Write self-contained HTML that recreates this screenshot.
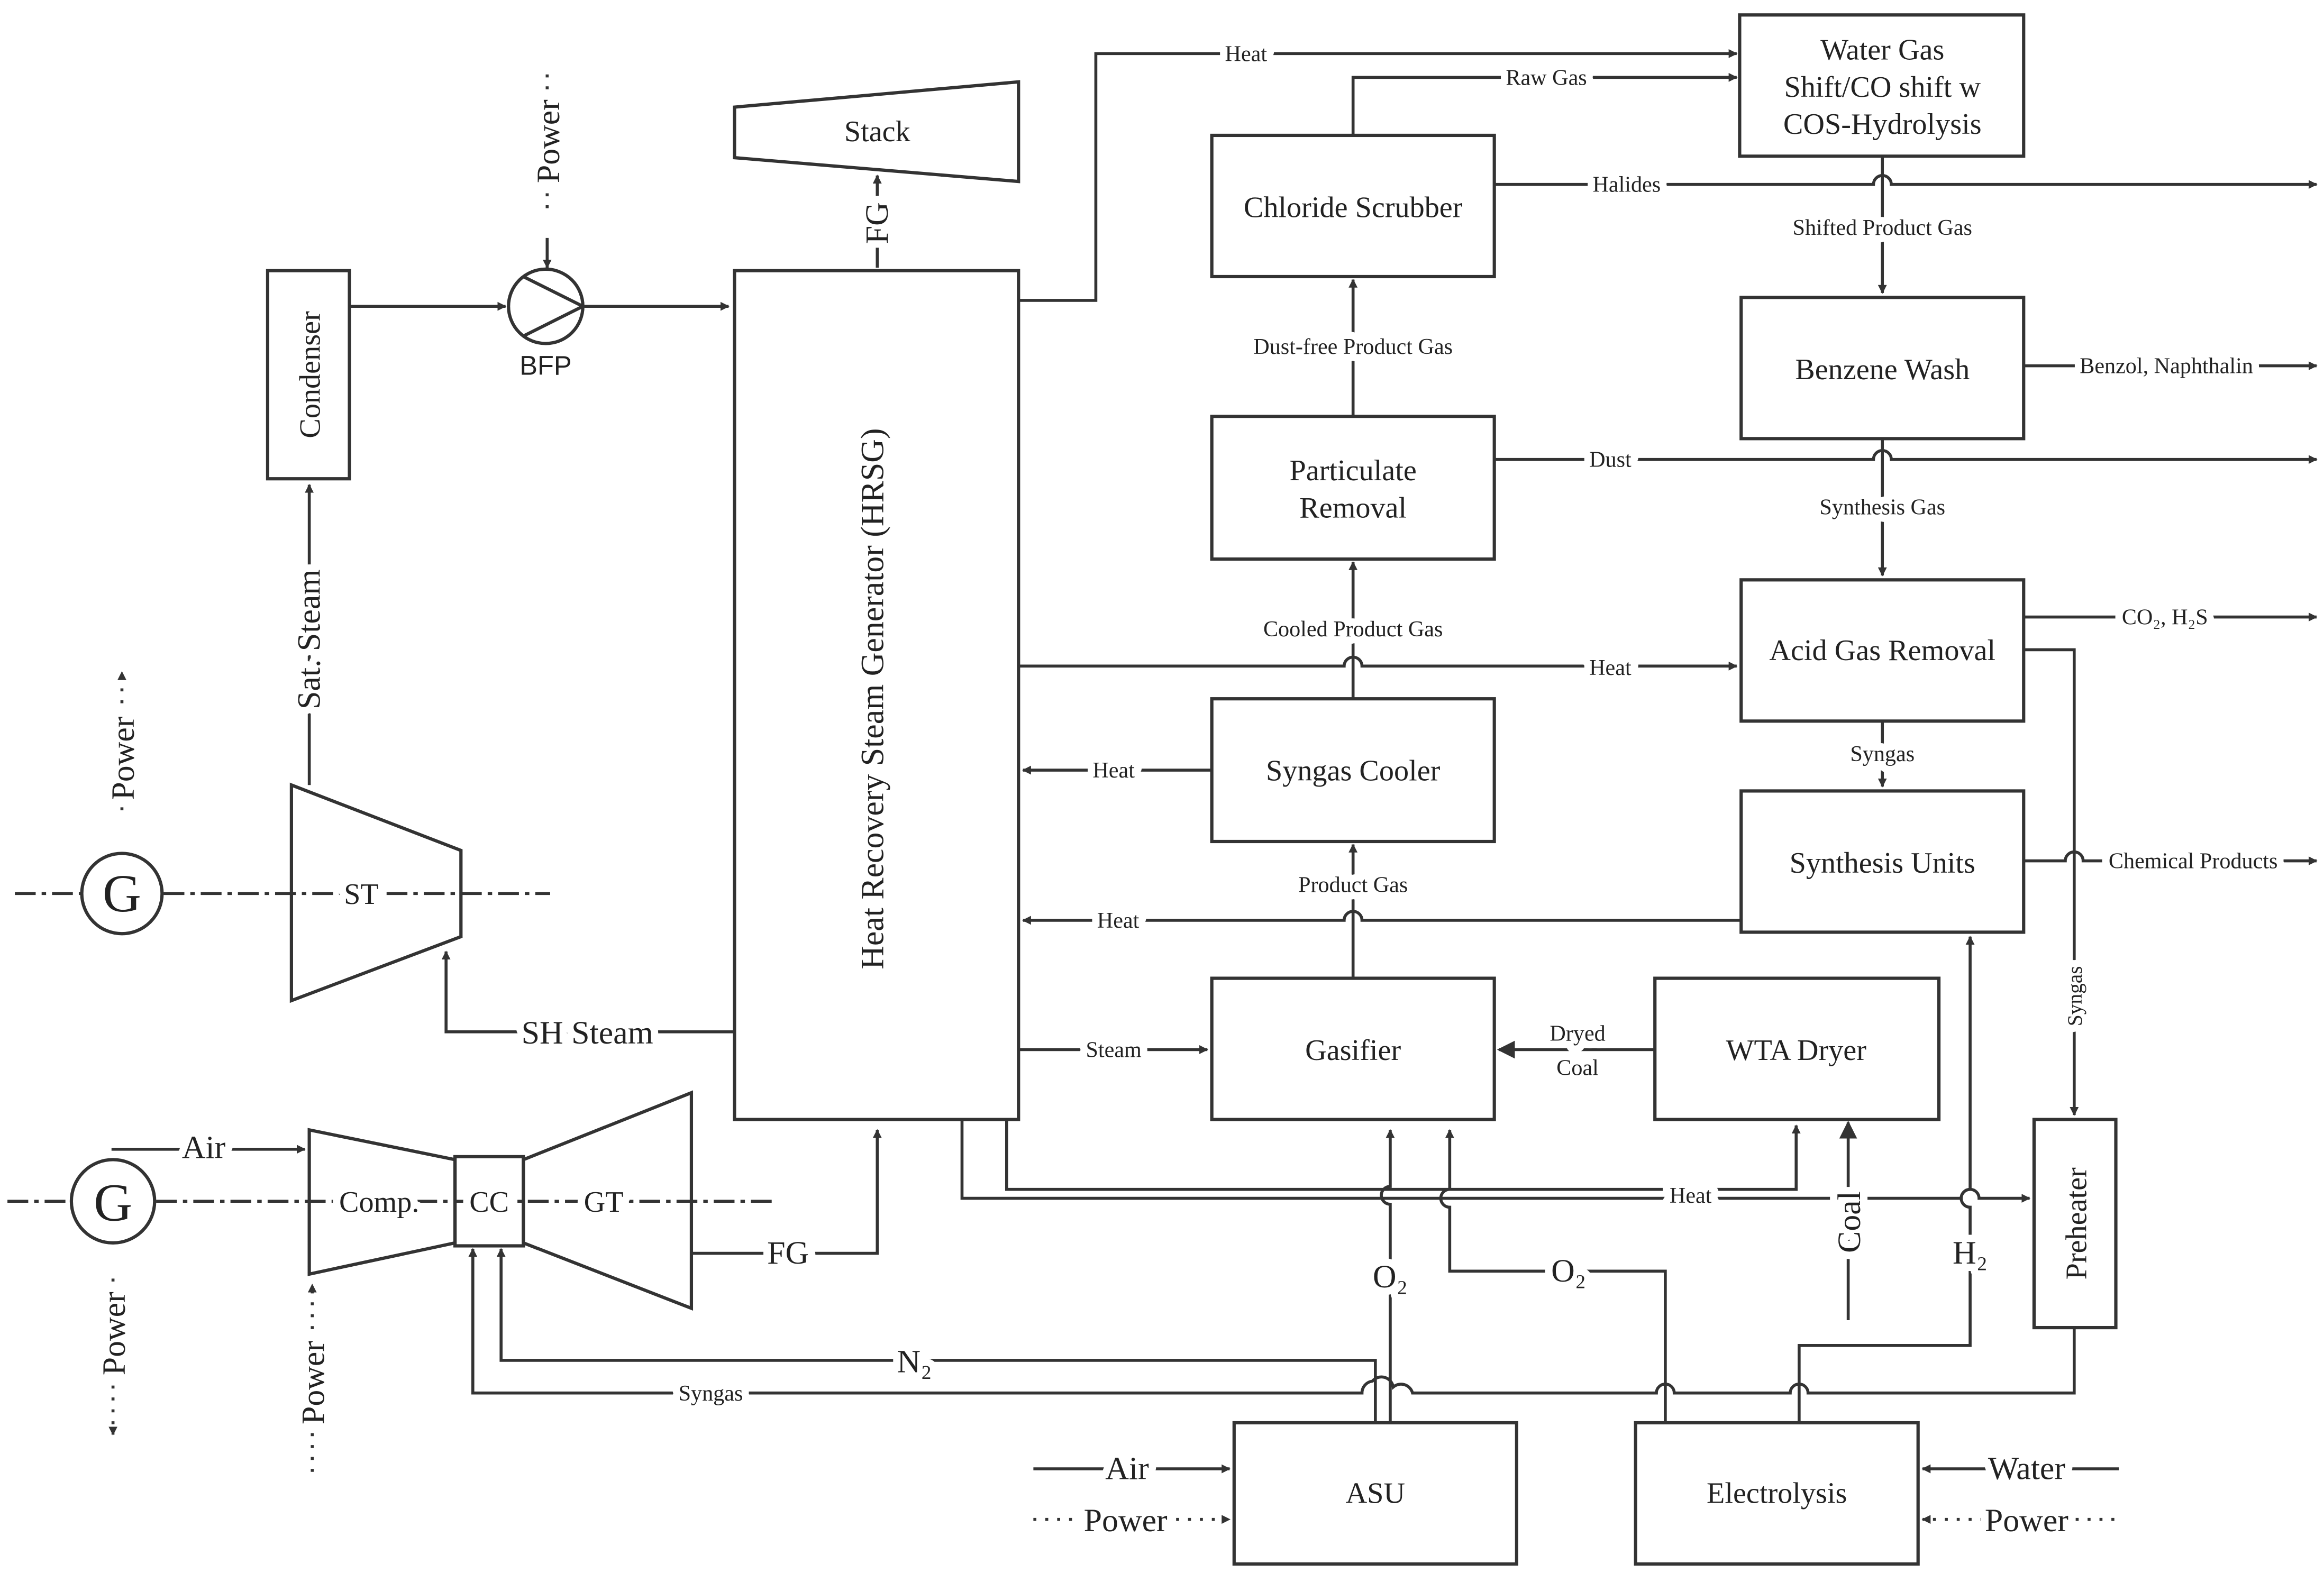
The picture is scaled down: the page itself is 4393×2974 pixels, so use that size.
<!DOCTYPE html>
<html><head><meta charset="utf-8"><style>html,body{margin:0;padding:0;background:#fff}svg{display:block}</style></head>
<body>
<svg xmlns="http://www.w3.org/2000/svg" width="4393" height="2974" viewBox="0 0 1563 1058" font-family="Liberation Serif, serif" fill="none" stroke="#333" stroke-width="2">
<defs>
<marker id="a" viewBox="0 0 10 10" refX="9" refY="5" markerWidth="6" markerHeight="6" orient="auto" markerUnits="userSpaceOnUse"><path d="M0,0 L10,5 L0,10 z" fill="#333" stroke="none"/></marker>
<marker id="b" viewBox="0 0 10 10" refX="9" refY="5" markerWidth="12" markerHeight="12" orient="auto" markerUnits="userSpaceOnUse"><path d="M0,0 L10,5 L0,10 z" fill="#333" stroke="none"/></marker>
</defs>
<rect x="0" y="0" width="1563" height="1058" fill="#fff" stroke="none"/>
<!-- shafts -->
<path d="M10,601 H370" stroke-dasharray="14 4 3 4"/>
<path d="M5,808 H520" stroke-dasharray="14 4 3 4"/>
<g stroke-width="2.2">
<rect x="494" y="182" width="191" height="571"/>
<rect x="180" y="182" width="55" height="140"/>
<rect x="815" y="91" width="190" height="95"/>
<rect x="815" y="280" width="190" height="96"/>
<rect x="815" y="470" width="190" height="96"/>
<rect x="815" y="658" width="190" height="95"/>
<rect x="1113" y="658" width="191" height="95"/>
<rect x="1170" y="10" width="191" height="95"/>
<rect x="1171" y="200" width="190" height="95"/>
<rect x="1171" y="390" width="190" height="95"/>
<rect x="1171" y="532" width="190" height="95"/>
<rect x="1368" y="753" width="55" height="140"/>
<rect x="830" y="957" width="190" height="95"/>
<rect x="1100" y="957" width="190" height="95"/>
<polygon points="494,72 685,55 685,122 494,106"/>
<polygon points="196,528 310,572 310,630 196,673"/>
<polygon points="208,760 306,780 306,836 208,857"/>
<rect x="306" y="778" width="46" height="60"/>
<polygon points="352,780 465,735 465,880 352,836"/>
<circle cx="367" cy="206" r="25" fill="#fff"/>
<path d="M352,186 L392,206 L352,226"/>
<circle cx="82" cy="601" r="27" fill="#fff"/>
<circle cx="76" cy="808" r="28" fill="#fff"/>
</g>
<g marker-end="url(#a)">
<path d="M590,180 V118"/>
<path d="M235,206 H340"/>
<path d="M393,206 H490"/>
<path d="M368,160 V180"/>
<path d="M208,528 V326"/>
<path d="M494,694 H300 V640"/>
<path d="M75,773 H205"/>
<path d="M465,843 H590 V760"/>
<path d="M925,957 V915 H337 V840"/>
<path d="M1395,893 V937 H1216 a6,6 0 0 0 -12,0 H1126 a6,6 0 0 0 -12,0 H950 a8,8 0 0 0 -13,-4 a8,8 0 0 0 -14,-4 a8,8 0 0 0 -7,8 H318 V840"/>
<path d="M935,957 V810 a6,6 0 0 1 0,-12 V760"/>
<path d="M1120,957 V855 H975 V812 a6,6 0 0 1 0,-12 V760"/>
<path d="M1210,957 V905 H1325 V812 a6,6 0 0 1 0,-12 V630"/>
<path d="M647,753 V806 H1319 a6,6 0 0 1 12,0 H1365"/>
<path d="M677,753 V800 H1208 V757"/>
<path d="M1361,437 H1395 V750"/>
<path d="M695,988 H827"/>
<path d="M695,1022 H827" stroke-dasharray="2 6"/>
<path d="M1425,988 H1293"/>
<path d="M1422,1022 H1293" stroke-dasharray="2 6"/>
<path d="M1113,706 H1008" marker-end="url(#b)"/>
<path d="M1243,888 V755" marker-end="url(#b)"/>
<path d="M685,706 H812"/>
<path d="M910,658 V568"/>
<path d="M1171,619 H916 a6,6 0 0 0 -12,0 H688"/>
<path d="M815,518 H688"/>
<path d="M910,470 V378"/>
<path d="M685,448 H904 a6,6 0 0 1 12,0 H1168"/>
<path d="M1005,309 H1260 a6,6 0 0 1 12,0 H1558"/>
<path d="M910,280 V188"/>
<path d="M1005,124 H1260 a6,6 0 0 1 12,0 H1558"/>
<path d="M910,91 V52 H1168"/>
<path d="M685,202 H737 V36 H1168"/>
<path d="M1266,105 V197"/>
<path d="M1361,246 H1558"/>
<path d="M1266,295 V387"/>
<path d="M1361,415 H1558"/>
<path d="M1266,485 V529"/>
<path d="M1361,579 H1389 a6,6 0 0 1 12,0 H1558"/>
</g>
<path d="M368,50 V140" stroke-dasharray="2 6"/>
<path d="M82,545 V452" stroke-dasharray="2 6" marker-end="url(#a)"/>
<path d="M76,860 V965" stroke-dasharray="2 6" marker-end="url(#a)"/>
<path d="M210,990 V864" stroke-dasharray="2 6" marker-end="url(#a)"/>
<g fill="#222" stroke="none" text-anchor="middle" font-size="20">
<text x="590" y="95">Stack</text>
<text x="910" y="146">Chloride Scrubber</text>
<text x="910" y="323">Particulate</text>
<text x="910" y="348">Removal</text>
<text x="910" y="525">Syngas Cooler</text>
<text x="910" y="713">Gasifier</text>
<text x="1208" y="713">WTA Dryer</text>
<text x="1266" y="40">Water Gas</text>
<text x="1266" y="65">Shift/CO shift w</text>
<text x="1266" y="90">COS-Hydrolysis</text>
<text x="1266" y="255">Benzene Wash</text>
<text x="1266" y="444">Acid Gas Removal</text>
<text x="1266" y="587">Synthesis Units</text>
<text x="925" y="1011">ASU</text>
<text x="1195" y="1011">Electrolysis</text>
<text x="367" y="252" font-family="Liberation Sans, sans-serif" font-size="18">BFP</text>
<text x="82" y="613" font-size="36">G</text>
<text x="76" y="821" font-size="36">G</text>
<text transform="translate(594,470) rotate(-90)" font-size="22">Heat Recovery Steam Generator (HRSG)</text>
<text transform="translate(215,252) rotate(-90)">Condenser</text>
<text transform="translate(1403,823) rotate(-90)">Preheater</text>
</g>
<g fill="#222" stroke="#fff" stroke-width="10" stroke-linejoin="round" paint-order="stroke" text-anchor="middle" font-size="15">
<text x="243" y="608" font-size="20">ST</text>
<text x="255" y="815" font-size="20">Comp.</text>
<text x="329" y="815" font-size="20">CC</text>
<text x="406" y="815" font-size="20">GT</text>
<text x="838" y="41">Heat</text>
<text x="1040" y="57">Raw Gas</text>
<text x="1094" y="129">Halides</text>
<text x="1266" y="158">Shifted Product Gas</text>
<text x="910" y="238">Dust-free Product Gas</text>
<text x="1083" y="314">Dust</text>
<text x="1266" y="346">Synthesis Gas</text>
<text x="910" y="428">Cooled Product Gas</text>
<text x="1083" y="454">Heat</text>
<text x="1266" y="512">Syngas</text>
<text x="749" y="523">Heat</text>
<text x="910" y="600">Product Gas</text>
<text x="752" y="624">Heat</text>
<text x="749" y="711">Steam</text>
<text x="1061" y="700">Dryed</text>
<text x="1061" y="723">Coal</text>
<text x="1137" y="809">Heat</text>
<text x="1457" y="251">Benzol, Naphthalin</text>
<text x="1456" y="420">CO₂, H₂S</text>
<text x="1475" y="584">Chemical Products</text>
<text x="478" y="942">Syngas</text>
<text transform="translate(1400,670) rotate(-90)" font-size="14">Syngas</text>
<g font-size="22">
<text x="395" y="702">SH Steam</text>
<text x="137" y="779">Air</text>
<text x="530" y="850">FG</text>
<text transform="translate(597,150) rotate(-90)">FG</text>
<text transform="translate(215,430) rotate(-90)">Sat. Steam</text>
<text transform="translate(376,95) rotate(-90)">Power</text>
<text transform="translate(90,510) rotate(-90)">Power</text>
<text transform="translate(84,897) rotate(-90)">Power</text>
<text transform="translate(218,930) rotate(-90)">Power</text>
<text transform="translate(1251,822) rotate(-90)">Coal</text>
<text x="615" y="923">N₂</text>
<text x="935" y="866">O₂</text>
<text x="1055" y="862">O₂</text>
<text x="1325" y="850">H₂</text>
<text x="758" y="995">Air</text>
<text x="757" y="1030">Power</text>
<text x="1363" y="995">Water</text>
<text x="1363" y="1030">Power</text>
</g>
</g>
</svg>
</body></html>
